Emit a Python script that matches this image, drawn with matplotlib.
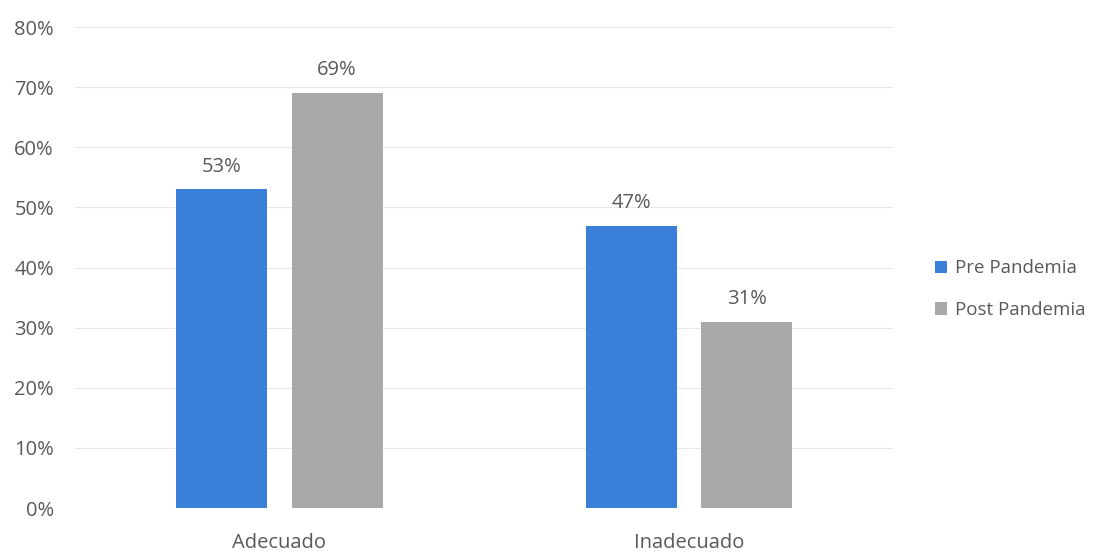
import numpy as np
import matplotlib
matplotlib.use("Agg")
import matplotlib.pyplot as plt

plt.rcParams['font.family'] = ['Open Sans', 'DejaVu Sans']

categories = ["Adecuado", "Inadecuado"]
pre = [53, 47]
post = [69, 31]
series_names = ["Pre Pandemia", "Post Pandemia"]
yticks = [0, 10, 20, 30, 40, 50, 60, 70, 80]

blue = "#3a80d8"
gray = "#a9a9a9"
txt = "#595959"

fig = plt.figure(figsize=(10.99, 5.54), dpi=100)
ax = fig.add_axes([0.068, 0.083, 0.745, 0.868])

x = np.arange(len(categories))
w = 0.2225
off = 0.141
b1 = ax.bar(x - off, pre, w, color=blue, label=series_names[0], zorder=2)
b2 = ax.bar(x + off, post, w, color=gray, label=series_names[1], zorder=2)

# value labels above bars
for bars, vals in ((b1, pre), (b2, post)):
    for r, v in zip(bars, vals):
        ax.text(r.get_x() + r.get_width() / 2, v + 3.8, f"{v}%", ha="center", va="center",
                fontsize=14.5, color=txt)

ax.set_xlim(-0.5, 1.5)
ax.set_ylim(0, 80)
ax.set_yticks(yticks)
ax.set_yticklabels([f"{t}%" for t in yticks], fontsize=14.5, color=txt)
ax.set_xticks(x)
ax.set_xticklabels(categories, fontsize=14.5, color=txt)
ax.tick_params(length=0)
ax.tick_params(axis='y', pad=15)
ax.tick_params(axis='x', pad=18)
ax.yaxis.grid(True, color="#e8e8e8", linewidth=0.8, zorder=0)
for s in ax.spines.values():
    s.set_visible(False)

fig.legend(handles=[b1, b2], labels=series_names, loc="center left",
           bbox_to_anchor=(0.835, 0.478), frameon=False, fontsize=13.5,
           handlelength=0.65, handleheight=0.65, handletextpad=0.45,
           labelspacing=1.25, labelcolor=txt)

fig.savefig("out.png", dpi=100)
